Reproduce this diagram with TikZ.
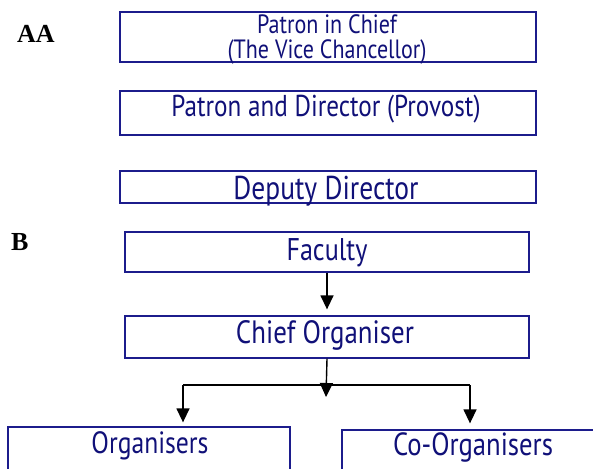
\documentclass[tikz,border=0pt]{standalone}
\usepackage{fontspec}
\setmainfont{PT Sans}
\newfontfamily\lblfont{Liberation Serif}
\usetikzlibrary{arrows.meta}
\definecolor{navytext}{RGB}{16,16,120}
\definecolor{navyline}{RGB}{28,28,140}
\newcommand{\fitw}[2]{\resizebox{#1pt}{!}{\scalebox{1}[1.2]{#2}}}
\tikzset{
  box/.style={draw=navyline, line width=1.3pt, inner sep=0pt},
  lbl/.style={anchor=base, inner sep=0pt, text=navytext},
  tag/.style={anchor=base west, inner sep=0pt, font=\lblfont\bfseries\fontsize{26}{26}\selectfont},
  conn/.style={line width=1.4pt, black},
  arr/.style={conn, -{Triangle[length=14pt,width=13pt]}},
}
\begin{document}
\begin{tikzpicture}[x=1pt,y=-1pt]
\useasboundingbox (0,0) rectangle (593,468);
\clip (0,0) rectangle (593,468);
% boxes
\node[box, minimum width=416pt, minimum height=50pt] (pic) at (328,37) {};
\node[box, minimum width=416pt, minimum height=44pt] (pad) at (328,113) {};
\node[box, minimum width=416pt, minimum height=32pt] (dd) at (328,187) {};
\node[box, minimum width=404pt, minimum height=40pt] (fac) at (327,252) {};
\node[box, minimum width=404pt, minimum height=42pt] (chief) at (327,337) {};
\node[box, minimum width=282pt, minimum height=60pt] (org) at (149,457) {};
\node[box, minimum width=282pt, minimum height=60pt] (coorg) at (483,460) {};
% texts
\node[lbl] (t1) at (327,34) {\fitw{140}{Patron in Chief}};
\node[lbl] (t2) at (327,59) {\fitw{199}{(The Vice Chancellor)}};
\node[lbl] (t3) at (326,116) {\fitw{309}{Patron and Director (Provost)}};
\node[lbl] (t4) at (326,199) {\fitw{185}{Deputy Director}};
\node[lbl] (t5) at (327,260) {\fitw{81}{Faculty}};
\node[lbl] (t6) at (325,343) {\fitw{178}{Chief Organiser}};
\node[lbl] (t7) at (150,453) {\fitw{117}{Organisers}};
\node[lbl] (t8) at (473,455) {\fitw{160}{Co-Organisers}};
% section tags
\node[tag] (aa) at (17,43) {AA};
\node[tag] (bb) at (11,250) {B};
% connectors
\coordinate (fork) at (326,385);
\coordinate (hl) at (183,385);
\coordinate (hr) at (470,385);
\draw[arr, shorten >=6pt] (fac.south) -- (chief.north);
\draw[arr] (chief.south) -- ([yshift=-12pt]fork);
\draw[conn] (hl) -- (hr);
\draw[arr, shorten >=4pt] (hl) -- (hl |- org.north);
\draw[arr, shorten >=6pt] (hr) -- (hr |- coorg.north);
\end{tikzpicture}
\end{document}
